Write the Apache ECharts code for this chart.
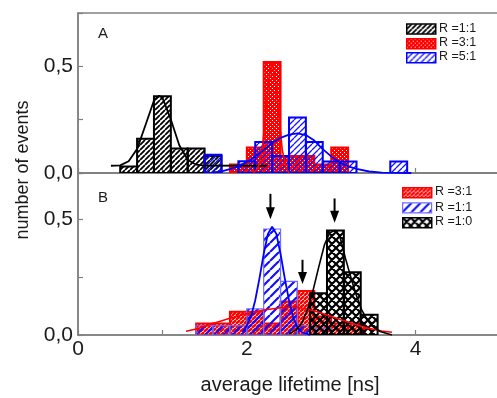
<!DOCTYPE html>
<html><head><meta charset="utf-8">
<script src="https://cdn.jsdelivr.net/npm/echarts@6/dist/echarts.min.js"></script>
<style>html,body{margin:0;padding:0;background:#fff}#c{width:497px;height:398px}</style>
</head><body><div id="c"></div>
<script>
// ---------------- data ----------------
const binWidth = 0.2;
// panel A
const topBlackLeft = [0.5, 0.7, 0.9, 1.1, 1.3, 1.5];
const topBlackH    = [0.03, 0.16, 0.36, 0.115, 0.115, 0.08];
const topRedLeft   = [1.8, 2.0, 2.2, 2.4, 2.6, 2.8, 3.0];
const topRedH      = [0.04, 0.12, 0.52, 0.08, 0.08, 0.04, 0.12];
const topBlueLeft  = [1.5, 1.9, 2.1, 2.3, 2.5, 2.7, 2.9, 3.1, 3.7];
const topBlueH     = [0.085, 0.055, 0.145, 0.08, 0.26, 0.145, 0.054, 0.054, 0.054];
// panel B
const botRedLeft   = [1.4, 1.6, 1.8, 2.0, 2.2, 2.4, 2.6, 2.8, 3.0, 3.2];
const botRedH      = [0.05, 0.05, 0.10, 0.10, 0.05, 0.145, 0.19, 0.08, 0.05, 0.05];
const botBlueLeft  = [1.4, 1.6, 1.8, 2.0, 2.2, 2.4, 2.6, 2.8];
const botBlueH     = [0.04, 0.04, 0.04, 0.113, 0.458, 0.232, 0.04, 0.03];
const botBlackLeft = [2.75, 2.95, 3.15, 3.35];
const botBlackH    = [0.18, 0.452, 0.271, 0.088];
// fitted curves
const fitTopBlackX = [0.39, 0.5, 0.6, 0.7, 0.8, 0.9, 0.96, 1.0, 1.1, 1.2, 1.3, 1.4, 1.5, 2.24];
const fitTopBlackY = [0.034, 0.036, 0.055, 0.112, 0.225, 0.34, 0.362, 0.353, 0.251, 0.13, 0.062, 0.039, 0.035, 0.034];
const fitTopRedX = [2.08, 2.13, 2.18, 2.23, 2.26, 2.3, 2.34, 2.38, 2.42, 2.46, 2.5];
const fitTopRedY = [0.0, 0.02, 0.1, 0.3, 0.44, 0.52, 0.43, 0.27, 0.11, 0.03, 0.0];
const fitTopBlueX = [1.6, 1.7, 1.8, 1.9, 2.0, 2.1, 2.2, 2.3, 2.4, 2.5, 2.6, 2.7, 2.8, 2.9, 3.0, 3.1, 3.2, 3.3, 3.45, 3.6, 3.95];
const fitTopBlueY = [0.003, 0.008, 0.018, 0.031, 0.052, 0.078, 0.108, 0.14, 0.165, 0.18, 0.186, 0.178, 0.152, 0.112, 0.078, 0.05, 0.031, 0.019, 0.007, 0.002, 0.0];
const fitBotRedX = [1.28, 1.4, 1.6, 1.8, 2.0, 2.2, 2.4, 2.6, 2.8, 3.0, 3.2, 3.4, 3.6, 3.72];
const fitBotRedY = [0.016, 0.026, 0.05, 0.072, 0.092, 0.108, 0.118, 0.12, 0.105, 0.08, 0.056, 0.032, 0.017, 0.012];
const fitBotBlueX = [1.95, 2.0, 2.05, 2.1, 2.15, 2.2, 2.25, 2.3, 2.35, 2.4, 2.45, 2.5, 2.55, 2.6, 2.65, 2.75];
const fitBotBlueY = [0.013, 0.04, 0.08, 0.15, 0.245, 0.35, 0.437, 0.468, 0.437, 0.35, 0.245, 0.15, 0.074, 0.033, 0.013, 0.0];
const fitBotBlackX = [2.5, 2.58, 2.65, 2.72, 2.78, 2.85, 2.92, 2.98, 3.04, 3.1, 3.17, 3.24, 3.3, 3.36, 3.42, 3.48, 3.58, 3.72];
const fitBotBlackY = [0.005, 0.02, 0.05, 0.11, 0.185, 0.29, 0.39, 0.44, 0.452, 0.43, 0.33, 0.24, 0.17, 0.11, 0.07, 0.04, 0.015, 0.0];
// arrows in panel B: x, start value, tip value
const arrowX   = [2.28, 2.66, 3.04];
const arrowTop = [0.61, 0.325, 0.59];
const arrowTip = [0.5, 0.22, 0.485];
// tick labels
const xTickLabels = {0: '0', 2: '2', 4: '4'};
const yTickLabels = {0: '0,0', 0.5: '0,5'};
const legendTop = ['R =1:1', 'R =3:1', 'R =5:1'];
const legendBot = ['R =3:1', 'R =1:1', 'R =1:0'];

// ---------------- patterns ----------------
function tile(size, draw) {
  const c = document.createElement('canvas'); c.width = c.height = size;
  const g = c.getContext('2d'); draw(g, size); return c;
}
function diag(color, size, lw) {
  return tile(size, (g, s) => {
    g.strokeStyle = color; g.lineWidth = lw; g.beginPath();
    for (let k = -1; k <= 1; k++) { g.moveTo(k * s, s); g.lineTo(k * s + s, 0); }
    g.stroke();
  });
}
function cross(color, size, lw) {
  return tile(size, (g, s) => {
    g.strokeStyle = color; g.lineWidth = lw; g.beginPath();
    for (let k = -1; k <= 1; k++) {
      g.moveTo(k * s, s); g.lineTo(k * s + s, 0);
      g.moveTo(k * s, 0); g.lineTo(k * s + s, s);
    }
    g.stroke();
  });
}
function dots(color) {
  return tile(4, (g, s) => {
    g.fillStyle = color; g.fillRect(0, 0, s, s);
    g.clearRect(0, 0, 1.4, 1.4); g.clearRect(2, 2, 1.4, 1.4);
  });
}
const pat = img => ({ image: img, repeat: 'repeat' });
const P = {
  topBlack: pat(diag('#000', 5, 1.8)),
  topRed: pat(dots('#ff0000')),
  topBlue: pat(diag('#1414ff', 6, 1.3)),
  botRed: pat(diag('#ff0000', 4, 2.3)),
  botBlue: pat(diag('#1010ff', 9, 2.2)),
  botBlack: pat(cross('#000', 8, 2.2))
};

// ---------------- helpers ----------------
const bins = (l, h) => l.map((v, i) => [v, +(v + binWidth).toFixed(3), h[i]]);
const pts = (x, y) => x.map((v, i) => [v, y[i]]);
function barSeries(grid, data, fill, stroke, lw) {
  return {
    type: 'custom', xAxisIndex: grid, yAxisIndex: grid, data: data, clip: true,
    encode: { x: [0, 1], y: 2 },
    renderItem: (params, api) => {
      const a = api.coord([api.value(0), api.value(2)]);
      const b = api.coord([api.value(1), 0]);
      return { type: 'rect', shape: { x: a[0], y: a[1], width: b[0] - a[0], height: b[1] - a[1] },
        style: { fill: fill, stroke: stroke, lineWidth: lw } };
    }
  };
}
function fitSeries(grid, data, color, w) {
  return { type: 'line', xAxisIndex: grid, yAxisIndex: grid, data: data, showSymbol: false,
    symbol: 'none', lineStyle: { color: color, width: w || 1.6 }, z: 5, silent: true };
}
const font = '"Liberation Sans", Arial, sans-serif';
const axisColor = '#808080';
function xAxis(grid, showLabel) {
  return { type: 'value', gridIndex: grid, min: 0, max: 5, interval: 1,
    axisLine: { show: true, lineStyle: { color: axisColor, width: 1.5 } },
    axisTick: { show: true, inside: true, length: 5, lineStyle: { color: axisColor, width: 1.2 } },
    splitLine: { show: false },
    axisLabel: { show: showLabel, margin: 4, fontSize: 21, color: '#1a1a1a', fontFamily: font,
      formatter: v => xTickLabels[v] !== undefined ? xTickLabels[v] : '' } };
}
function yAxis(grid, max) {
  return { type: 'value', gridIndex: grid, min: 0, max: max, interval: 0.25,
    axisLine: { show: true, lineStyle: { color: axisColor, width: 1.5 } },
    axisTick: { show: true, inside: true, length: 5, lineStyle: { color: axisColor, width: 1.2 } },
    splitLine: { show: false },
    axisLabel: { margin: 5, fontSize: 21, color: '#1a1a1a', fontFamily: font,
      formatter: v => yTickLabels[v] !== undefined ? yTickLabels[v] : '' } };
}
function legend(x, ys, labels, fills, strokes, lws) {
  const out = [];
  ys.forEach((y, i) => {
    out.push({ type: 'rect', left: x, top: y - 5, shape: { width: 29, height: 10 },
      style: { fill: '#fff', stroke: null }, z: 10 });
    out.push({ type: 'rect', left: x, top: y - 5, shape: { width: 29, height: 10 },
      style: { fill: fills[i], stroke: strokes[i], lineWidth: lws[i] }, z: 11 });
    out.push({ type: 'text', x: x + 33, y: y, style: { text: labels[i], fill: '#1a1a1a',
      font: '12.5px ' + font, textVerticalAlign: 'middle' }, z: 11 });
  });
  return out;
}

const chart = echarts.init(document.getElementById('c'), null, { renderer: 'canvas' });
chart.setOption({
  animation: false,
  backgroundColor: '#fff',
  grid: [
    { left: 78, top: 13, width: 422, height: 160, show: true, borderColor: axisColor, borderWidth: 1.5,
      outerBoundsMode: 'none', containLabel: false },
    { left: 78, top: 173, width: 422, height: 162, show: true, borderColor: axisColor, borderWidth: 1.5,
      outerBoundsMode: 'none', containLabel: false }
  ],
  xAxis: [xAxis(0, false), xAxis(1, true)],
  yAxis: [yAxis(0, 0.75), yAxis(1, 0.7)],
  series: [
    barSeries(0, bins(topBlackLeft, topBlackH), P.topBlack, '#000', 2),
    barSeries(0, bins(topRedLeft, topRedH), P.topRed, '#ff0000', 2),
    barSeries(0, bins(topBlueLeft, topBlueH), P.topBlue, '#0000ff', 2),
    fitSeries(0, pts(fitTopBlackX, fitTopBlackY), '#000', 1.8),
    fitSeries(0, pts(fitTopRedX, fitTopRedY), '#ff0000', 1.6),
    fitSeries(0, pts(fitTopBlueX, fitTopBlueY), '#0000ff', 1.8),
    barSeries(1, bins(botRedLeft, botRedH), P.botRed, '#ff0000', 2),
    barSeries(1, bins(botBlueLeft, botBlueH), P.botBlue, '#7070ff', 1.2),
    barSeries(1, bins(botBlackLeft, botBlackH), P.botBlack, '#000', 2),
    fitSeries(1, pts(fitBotRedX, fitBotRedY), '#ff0000', 1.6),
    fitSeries(1, pts(fitBotBlueX, fitBotBlueY), '#0000ff', 1.8),
    fitSeries(1, pts(fitBotBlackX, fitBotBlackY), '#000', 1.6),
    {
      type: 'custom', xAxisIndex: 1, yAxisIndex: 1, z: 6,
      data: arrowX.map((x, i) => [x, arrowTop[i], arrowTip[i]]),
      encode: { x: 0, y: [1, 2] },
      renderItem: (params, api) => {
        const a = api.coord([api.value(0), api.value(1)]);
        const b = api.coord([api.value(0), api.value(2)]);
        return { type: 'group', children: [
          { type: 'line', shape: { x1: a[0], y1: a[1], x2: b[0], y2: b[1] - 8 },
            style: { stroke: '#000', lineWidth: 2 } },
          { type: 'polygon', shape: { points: [[b[0] - 4.5, b[1] - 12], [b[0] + 4.5, b[1] - 12], [b[0], b[1]]] },
            style: { fill: '#000' } }
        ] };
      }
    }
  ],
  graphic: [
    { type: 'text', x: 98, y: 34, style: { text: 'A', fill: '#1a1a1a', font: '15px ' + font, textVerticalAlign: 'middle' } },
    { type: 'text', x: 98, y: 198, style: { text: 'B', fill: '#1a1a1a', font: '15px ' + font, textVerticalAlign: 'middle' } },
    { type: 'text', x: 290, y: 385, style: { text: 'average lifetime [ns]', fill: '#1a1a1a', font: '20px ' + font,
      textAlign: 'center', textVerticalAlign: 'middle' } },
    { type: 'text', x: 23, y: 170, rotation: Math.PI / 2, style: { text: 'number of events', fill: '#1a1a1a',
      font: '18px ' + font, textAlign: 'center', textVerticalAlign: 'middle' } }
  ].concat(
    legend(406, [28.3, 43, 57], legendTop, [P.topBlack, P.topRed, P.topBlue], ['#000', '#ff0000', '#0000ff'], [1.5, 1.5, 1.5]),
    legend(402, [192, 207.3, 222], legendBot, [P.botRed, P.botBlue, P.botBlack], ['#ff0000', '#7070ff', '#000'], [1.5, 1.2, 1.5])
  )
});
</script></body></html>
